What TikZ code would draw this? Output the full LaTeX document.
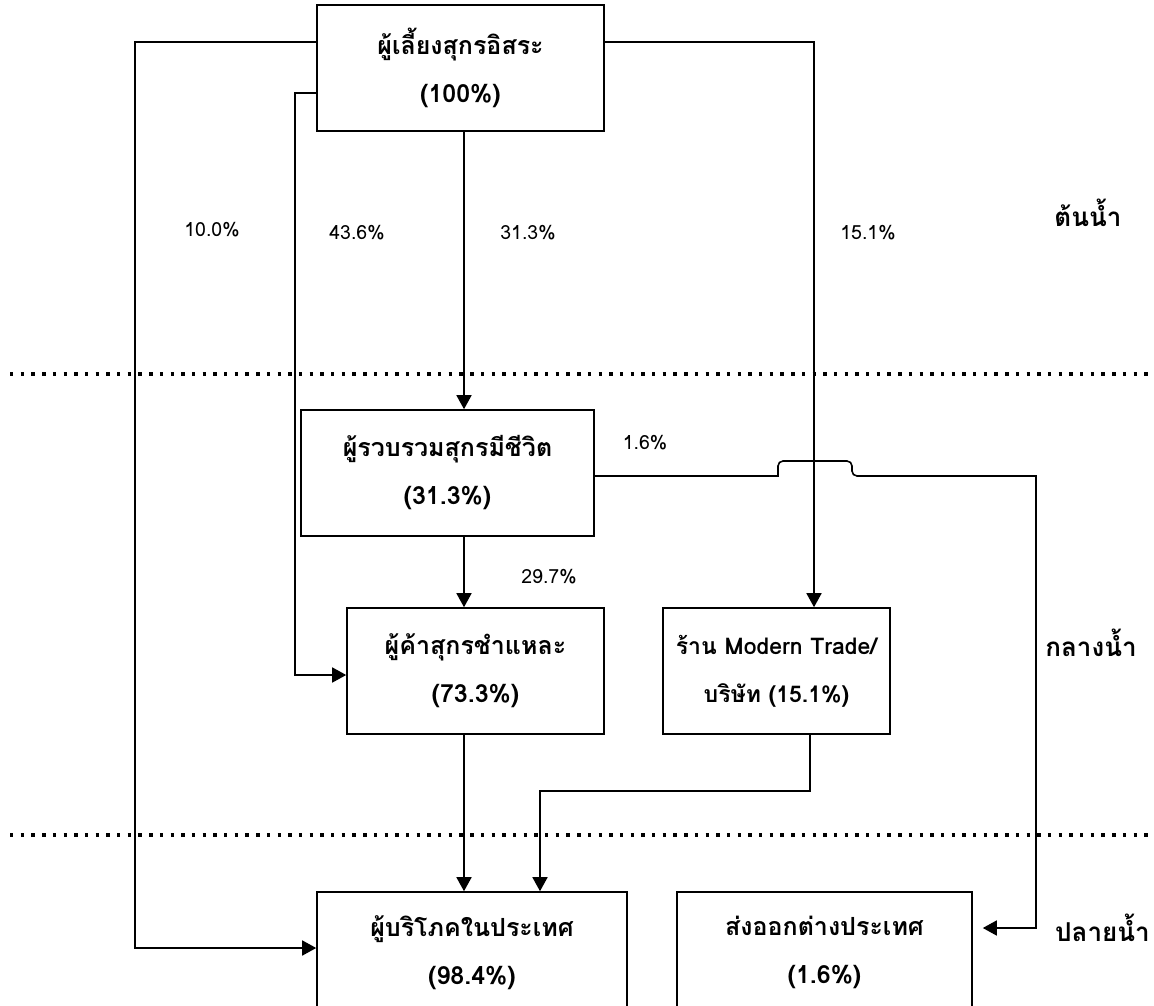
\documentclass[tikz,border=0pt]{standalone}
\usepackage{fontspec}
\newfontfamily\thaifont[Script=Thai]{Loma}
\usetikzlibrary{arrows.meta}
\tikzset{
  box/.style={draw, line width=1.6pt, align=center, inner sep=0pt,
    font=\thaifont\bfseries\fontsize{25}{48}\selectfont},
  pct/.style={font=\thaifont\fontsize{19.5}{22}\selectfont, inner sep=0pt},
  zone/.style={font=\thaifont\bfseries\fontsize{26}{30}\selectfont, inner sep=0pt},
  conn/.style={line width=1.6pt},
  arr/.style={conn, -{Triangle[length=14pt,width=15pt]}},
  sep/.style={line width=3.4pt, dash pattern=on 3.4pt off 7.3pt}
}
\begin{document}
\begin{tikzpicture}[x=1pt,y=-1pt]
\clip (0,0) rectangle (1154,1006);
\fill[white] (0,0) rectangle (1154,1006);
% separators
\draw[sep] (10,374) -- (1150,374);
\draw[sep] (10,835) -- (1150,835);
% boxes
\node[box, minimum width=287pt, minimum height=126pt] (top) at (460.5,68) {ผู้เลี้ยงสุกรอิสระ\\(100\%)};
\node[box, minimum width=293pt, minimum height=126pt] (coll) at (447.5,473) {ผู้รวบรวมสุกรมีชีวิต\\(31.3\%)};
\node[box, minimum width=257pt, minimum height=126pt] (ret) at (475.5,671) {ผู้ค้าสุกรชำแหละ\\(73.3\%)};
\node[box, minimum width=227pt, minimum height=126pt, font=\thaifont\bfseries\fontsize{23}{48}\selectfont] (mt) at (776.5,671) {ร้าน Modern Trade/\\บริษัท (15.1\%)};
\node[box, minimum width=310pt, minimum height=121pt] (cons) at (472,952.5) {ผู้บริโภคในประเทศ\\(98.4\%)};
\node[box, minimum width=295pt, minimum height=121pt] (exp) at (824.5,952.5) {ส่งออกต่างประเทศ\\(1.6\%)};
% zone labels
\node[zone] (z1) at (1088,213) {ต้นน้ำ};
\node[zone] (z2) at (1091,643) {กลางน้ำ};
\node[zone, anchor=west] (z3) at (1055,928) {ปลายน้ำ};
% percentage labels
\node[pct] (p1) at (212,230) {10.0\%};
\node[pct] (p2) at (357,233) {43.6\%};
\node[pct] (p3) at (528,233) {31.3\%};
\node[pct] (p4) at (868,233) {15.1\%};
\node[pct] (p5) at (645,443) {1.6\%};
\node[pct] (p6) at (549,577) {29.7\%};
% helper coordinates
\coordinate (a1) at (135,42);
\coordinate (a2) at (135,948);
\coordinate (b1) at (295,93);
\coordinate (b2) at (295,675);
\coordinate (c1) at (464,0);
\coordinate (d1) at (814,42);
\coordinate (h0) at (0,476);
\coordinate (e1) at (1036,476);
\coordinate (e2) at (1036,928);
\coordinate (m1) at (810,791);
\coordinate (m2) at (540,791);
% connectors
\draw[arr] (top.west |- a1) -- (a1) -- (a2) -- (cons.west |- a2);
\draw[arr] (top.west |- b1) -- (b1) -- (b2) -- (ret.west |- b2);
\draw[arr] (top.south -| c1) -- (coll.north -| c1);
\draw[arr] (top.east |- d1) -- (d1) -- (mt.north -| d1);
\draw[arr] (coll.south -| c1) -- (ret.north -| c1);
\draw[arr] (ret.south -| c1) -- (cons.north -| c1);
\draw[arr] (mt.south -| m1) -- (m1) -- (m2) -- (cons.north -| m2);
\draw[arr, shorten >=10pt] (coll.east |- h0) -- (778,476) [rounded corners=5pt] -- (778,461) -- (852,461) -- (852,476) [sharp corners] -- (e1) -- (e2) -- (exp.east |- e2);
\end{tikzpicture}
\end{document}
